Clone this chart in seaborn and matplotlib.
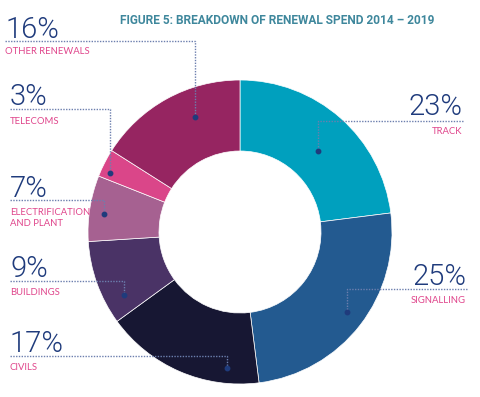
import matplotlib
matplotlib.use('Agg')
import matplotlib.pyplot as plt
import seaborn as sns
import numpy as np

# данные
categories = ['TRACK', 'SIGNALLING', 'CIVILS', 'BUILDINGS',
              'ELECTRIFICATION\nAND PLANT', 'TELECOMS', 'OTHER RENEWALS']
shares = [23, 25, 17, 9, 7, 3, 16]
colors = ['#00A0BE', '#235A90', '#171733', '#4A3366', '#A66191', '#DA4689', '#962561']

sns.set_theme(style='white')
plt.rcParams['font.family'] = ['Lato', 'DejaVu Sans']

W, H = 480, 397
fig = plt.figure(figsize=(W / 100, H / 100), dpi=100)
ax = fig.add_axes([0, 0, 1, 1])

def py(y):
    return H - y

cx, cy, R = 240, py(232), 152
wedges, _ = ax.pie(shares, colors=colors, startangle=90, counterclock=False,
                   center=(cx, cy), radius=R,
                   wedgeprops=dict(width=71, edgecolor='white', linewidth=0.5))
ax.set_xlim(0, W)
ax.set_ylim(0, H)
ax.set_aspect('equal')
ax.axis('off')

pct_color = '#1F3B7C'
cat_color = '#E0468C'
line_color = '#6C7FAE'

# раскладка подписей: x текста, выравнивание, низ процента, линия, верх категории,
# доля вдоль сектора и радиус точки
layout = [
    (462, 'right', 115, 121, 127, 0.53, 112),   # track
    (466, 'right', 285, 289, 296, 0.49, 134),   # signalling
    (10, 'left', 352, 356, 363, 0.21, 137),     # civils
    (10, 'left', 277, 281, 288, 0.23, 132),     # buildings
    (10, 'left', 197, 200, 208, 0.44, 137),     # electrification
    (10, 'left', 105, 109, 117, 0.26, 143),     # telecoms
    (5, 'left', 38, 41, 47, 0.63, 123),         # other
]

for w, cat, val, (tx, ha, pb, ly, ct, t, rr) in zip(wedges, categories, shares, layout):
    ang = np.deg2rad(w.theta2 - t * (w.theta2 - w.theta1))
    dx = cx + rr * np.cos(ang)
    dy = cy + rr * np.sin(ang)
    ax.text(tx, py(pb), f'{val}%', ha=ha, va='baseline', fontsize=21,
            family=['Roboto', 'DejaVu Sans'], fontweight=300, color=pct_color)
    ax.text(tx, py(ct), cat, ha=ha, va='top', fontsize=6.8, color=cat_color,
            linespacing=1.3)
    if ha == 'left':
        xs = [tx, dx, dx]
    else:
        xs = [tx + 1, dx, dx]
    ax.plot(xs, [py(ly), py(ly), dy], color=line_color, lw=1, ls=(0, (1, 1)))
    ax.plot(dx, dy, 'o', ms=3.2, color='#1F3B7C')

fig.text(277 / W, 1 - 20 / H, 'FIGURE 5: BREAKDOWN OF RENEWAL SPEND 2014 – 2019',
         ha='center', va='center', fontsize=8.6, fontweight='bold',
         family=['Roboto', 'DejaVu Sans'], color='#3E879C')

fig.savefig('out.png', dpi=100)
